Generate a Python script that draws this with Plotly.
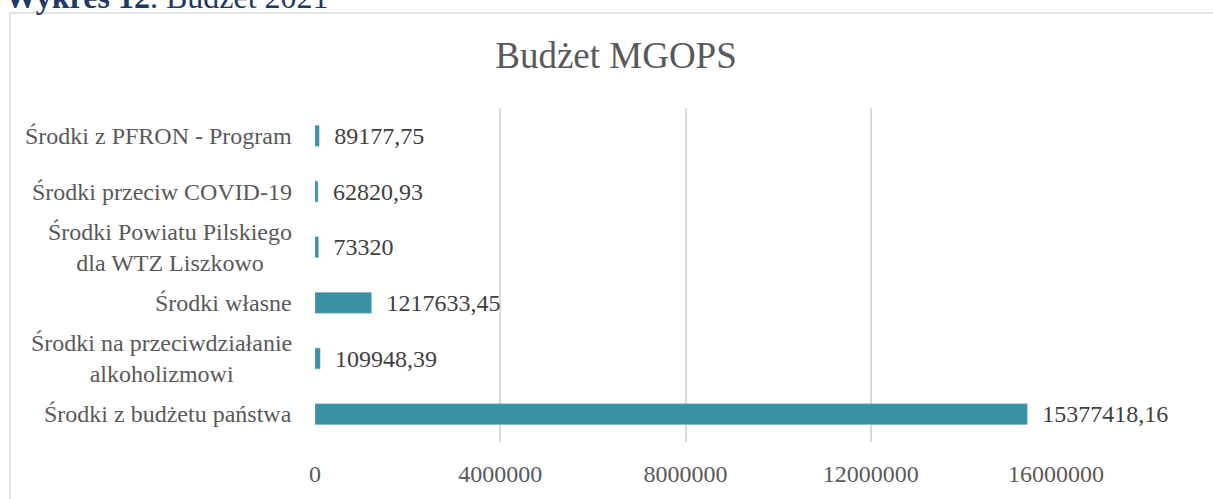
import plotly.graph_objects as go

# Kategorie (od góry do dołu) i wartości budżetu
kategorie = [
    "Środki z PFRON - Program",
    "Środki przeciw COVID-19",
    "Środki Powiatu Pilskiego<br>dla WTZ Liszkowo",
    "Środki własne",
    "Środki na przeciwdziałanie<br>alkoholizmowi",
    "Środki z budżetu państwa",
]
wartosci = [89177.75, 62820.93, 73320, 1217633.45, 109948.39, 15377418.16]
ticki = [0, 4000000, 8000000, 12000000, 16000000]

FONT = "Liberation Serif"
SZARY = "#595959"

# obszar wykresu w pikselach
L, R, T, B = 315, 1056, 108, 449
W, H = 1213, 499


def format_pl(v):
    if v == int(v):
        return str(int(v))
    return f"{v:.2f}".replace(".", ",")


etykiety = ["  " + format_pl(v) for v in wartosci]

fig = go.Figure()
fig.add_trace(go.Bar(
    x=wartosci,
    y=kategorie,
    orientation="h",
    marker=dict(color="#3A91A7", line=dict(color="#6FB3C5", width=0.5)),
    text=etykiety,
    textposition="outside",
    constraintext="none",
    textfont=dict(family=FONT, size=24, color="#404040"),
    cliponaxis=False,
    width=0.37,
    hoverinfo="skip",
))

# Etykiety kategorii jako adnotacje (wyśrodkowane wiersze jak w Excelu)
for k in kategorie:
    fig.add_annotation(
        x=-(L - 294) / (R - L), xref="paper", xanchor="right",
        y=k, yref="y", yanchor="middle",
        text=k, showarrow=False, align="center",
        font=dict(family=FONT, size=24, color=SZARY),
    )

# Nagłówek nad wykresem (częściowo ucięty, jak w oryginale)
fig.add_annotation(
    x=(3 - L) / (R - L), xref="paper", xanchor="left",
    y=(B + 5) / (B - T), yref="paper", yanchor="middle",
    text="<b>Wykres 12</b>. Budżet 2021", showarrow=False,
    font=dict(family=FONT, size=32, color="#1F3864"),
)

# Ramka obszaru wykresu
fig.add_shape(
    type="rect", xref="paper", yref="paper",
    x0=(10 - L) / (R - L), x1=(1230 - L) / (R - L),
    y0=(B - 520) / (B - T), y1=(B - 11) / (B - T),
    line=dict(color="#D9D9D9", width=1.5), layer="below",
)

fig.update_layout(
    width=W,
    height=H,
    margin=dict(l=L, r=W - R, t=T, b=H - B),
    paper_bgcolor="white",
    plot_bgcolor="white",
    showlegend=False,
    title=dict(
        text="Budżet MGOPS",
        x=(616 - L) / (R - L), xref="paper", xanchor="center",
        y=1 - 55 / H, yanchor="middle",
        font=dict(family=FONT, size=37, color=SZARY),
    ),
    xaxis=dict(
        range=[0, 16000000],
        tickvals=ticki,
        ticktext=[str(t) for t in ticki],
        showgrid=True,
        gridcolor="#D9D9D9",
        gridwidth=1.5,
        zeroline=False,
        showline=False,
        tickfont=dict(family=FONT, size=24, color=SZARY),
        ticklabelstandoff=15,
    ),
    yaxis=dict(
        autorange="reversed",
        showticklabels=False,
        showgrid=False,
        zeroline=False,
        showline=False,
    ),
)

fig.write_html(
    "out.html",
    config={"displayModeBar": False},
    post_script="document.body.style.margin='0';",
)
